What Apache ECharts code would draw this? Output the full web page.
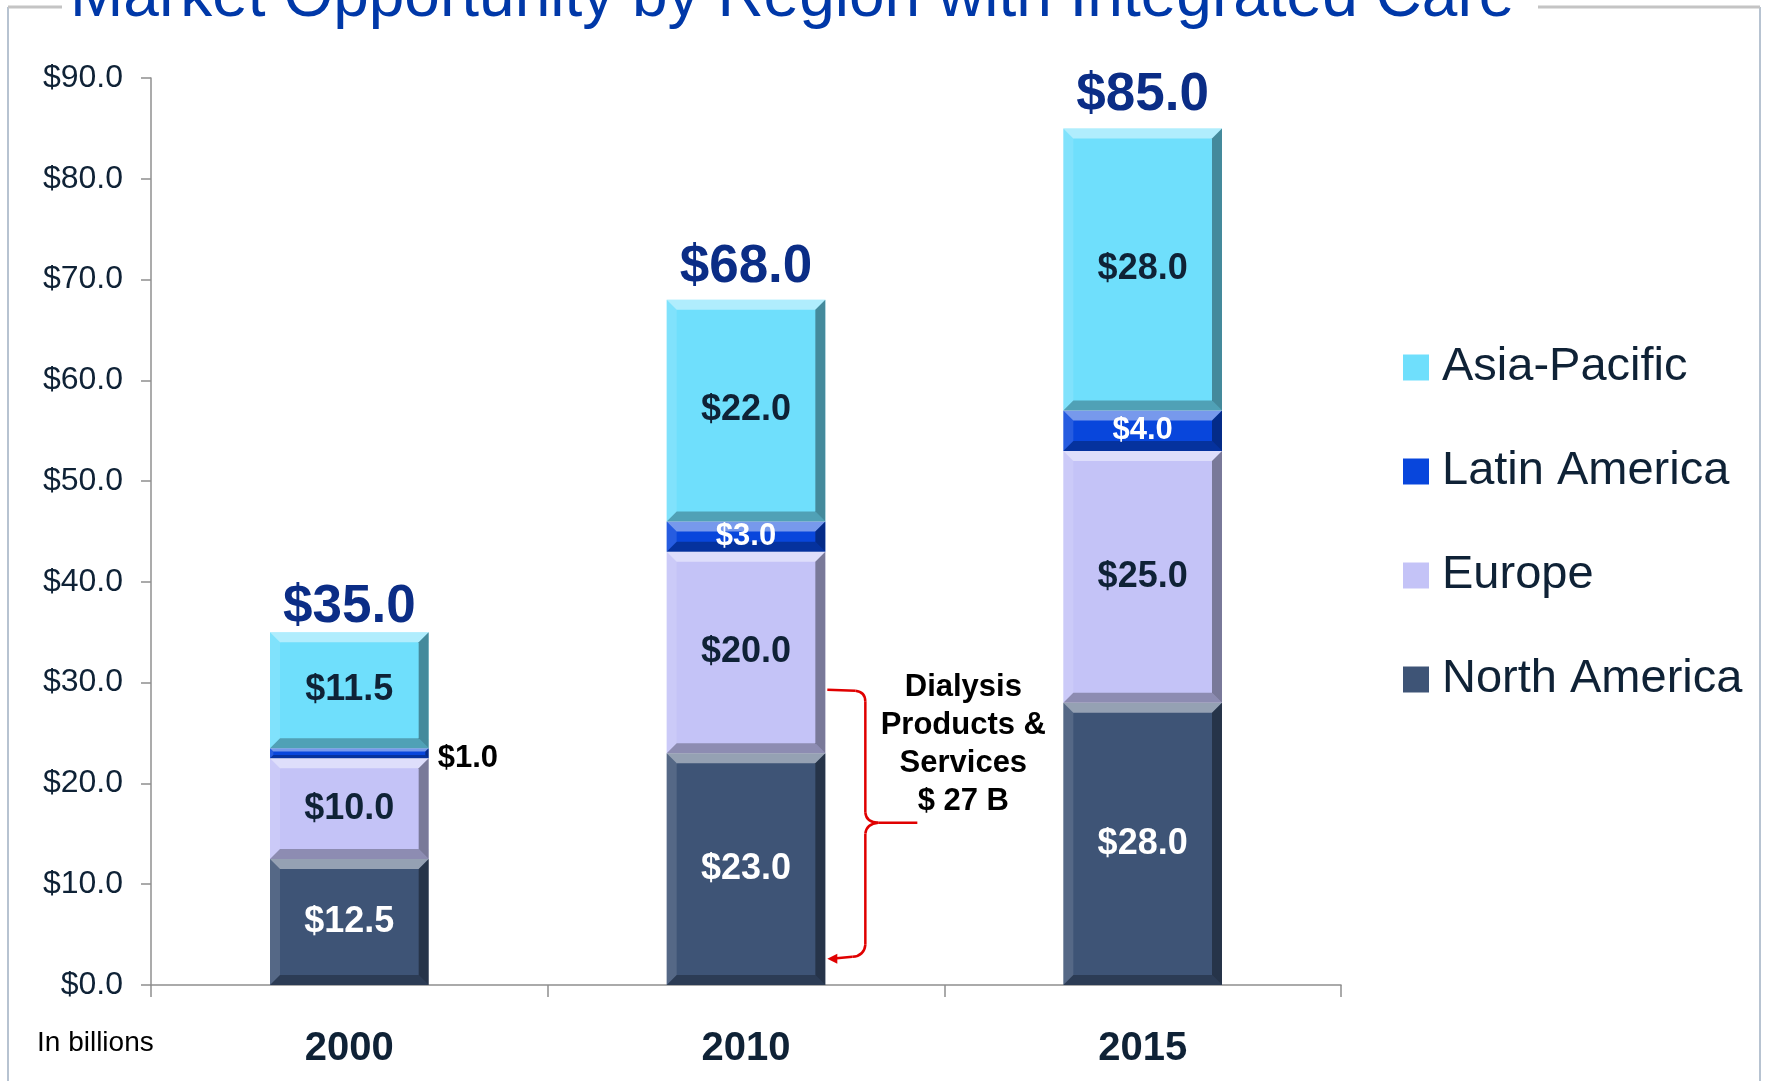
<!DOCTYPE html>
<html>
<head>
<meta charset="utf-8">
<script src="https://cdn.jsdelivr.net/npm/echarts@6/dist/echarts.min.js"></script>
<style>
  html, body { margin: 0; padding: 0; background: #fff; }
  #main { width: 1767px; height: 1081px; }
</style>
</head>
<body>
<div id="main"></div>
<script>
// data (billions USD)
var years = ['2000', '2010', '2015'];
var northAmerica = [12.5, 23.0, 28.0];
var europe = [10.0, 20.0, 25.0];
var latinAmerica = [1.0, 3.0, 4.0];
var asiaPacific = [11.5, 22.0, 28.0];
var totals = [35.0, 68.0, 85.0];
var legendOrder = ['Asia-Pacific', 'Latin America', 'Europe', 'North America'];

var FONT = '"Liberation Sans", Arial, sans-serif';
var DARK = '#0f2236';
var BAR_W = 0.4;

// stacking order bottom -> top
var regions = [
  { name: 'North America', data: northAmerica, color: '#3e5476', text: '#ffffff', size: 36 },
  { name: 'Europe', data: europe, color: '#c4c3f7', text: DARK, size: 36 },
  { name: 'Latin America', data: latinAmerica, color: '#0846dc', text: '#ffffff', size: 31 },
  { name: 'Asia-Pacific', data: asiaPacific, color: '#6fdffc', text: DARK, size: 36 }
];

// segments for the bevel / label overlay: [category, low, high, region]
var segments = [];
years.forEach(function (y, i) {
  var base = 0;
  regions.forEach(function (r, k) {
    segments.push([i, base, base + r.data[i], k]);
    base += r.data[i];
  });
});

function renderBevel(params, api) {
  var cat = api.value(0), lo = api.value(1), hi = api.value(2), k = api.value(3);
  var pt = api.coord([cat, hi]);
  var pb = api.coord([cat, lo]);
  var w = api.size([1, 0])[0] * BAR_W;
  var x0 = pt[0] - w / 2, x1 = pt[0] + w / 2, y0 = pt[1], y1 = pb[1];
  var b = Math.min(10, (y1 - y0) / 3);
  var r = regions[k];
  var kids = [
    { type: 'polygon', shape: { points: [[x0, y0], [x1, y0], [x1 - b, y0 + b], [x0 + b, y0 + b]] }, style: { fill: 'rgba(255,255,255,0.45)' } },
    { type: 'polygon', shape: { points: [[x0, y0], [x0 + b, y0 + b], [x0 + b, y1 - b], [x0, y1]] }, style: { fill: 'rgba(255,255,255,0.12)' } },
    { type: 'polygon', shape: { points: [[x1, y0], [x1, y1], [x1 - b, y1 - b], [x1 - b, y0 + b]] }, style: { fill: 'rgba(0,0,0,0.38)' } },
    { type: 'polygon', shape: { points: [[x0, y1], [x0 + b, y1 - b], [x1 - b, y1 - b], [x1, y1]] }, style: { fill: 'rgba(0,0,0,0.28)' } }
  ];
  var label = '$' + (hi - lo).toFixed(1);
  if (y1 - y0 < 20) {
    kids.push({ type: 'text', style: { text: label, x: x1 + 9, y: (y0 + y1) / 2 + 5, align: 'left', verticalAlign: 'middle', fill: '#000', font: 'bold 31px ' + FONT } });
  } else {
    kids.push({ type: 'text', style: { text: label, x: pt[0], y: (y0 + y1) / 2, align: 'center', verticalAlign: 'middle', fill: r.text, font: 'bold ' + r.size + 'px ' + FONT } });
  }
  return { type: 'group', children: kids };
}

var series = regions.map(function (r) {
  return {
    name: r.name,
    type: 'bar',
    stack: 'all',
    barWidth: '40%',
    data: r.data,
    itemStyle: { color: r.color },
    silent: true
  };
});
series.push({
  name: 'bevel',
  type: 'custom',
  renderItem: renderBevel,
  data: segments,
  encode: { x: 0, y: [1, 2] },
  z: 3,
  silent: true
});
series.push({
  name: 'Total',
  type: 'bar',
  barWidth: '40%',
  barGap: '-100%',
  data: totals.map(function (v, i) {
    return i === 0 ? { value: v, label: { distance: -2 } } : v;
  }),
  itemStyle: { color: 'rgba(0,0,0,0)' },
  label: {
    show: true,
    position: 'top',
    distance: 6,
    formatter: function (p) { return '$' + p.value.toFixed(1); },
    fontSize: 53,
    fontWeight: 'bold',
    fontFamily: FONT,
    color: '#0b2d86'
  },
  z: 1,
  silent: true
});

var chart = echarts.init(document.getElementById('main'));
chart.setOption({
  animation: false,
  grid: { left: 151, right: 426, top: 78, bottom: 96 },
  legend: {
    orient: 'vertical',
    left: 1403,
    top: 344,
    padding: 0,
    itemWidth: 26,
    itemHeight: 26,
    itemGap: 57,
    icon: 'rect',
    selectedMode: false,
    data: legendOrder,
    textStyle: { fontSize: 47, lineHeight: 47, color: DARK, fontFamily: FONT, padding: [0, 0, 0, 8] }
  },
  xAxis: {
    type: 'category',
    data: years,
    axisLine: { lineStyle: { color: '#8f8f8f', width: 1.5 } },
    axisTick: { show: true, length: 12, lineStyle: { color: '#8f8f8f', width: 1.5 } },
    axisLabel: { fontSize: 40, fontWeight: 'bold', color: DARK, fontFamily: FONT, margin: 44 }
  },
  yAxis: {
    type: 'value',
    min: 0,
    max: 90,
    interval: 10,
    splitLine: { show: false },
    axisLine: { show: true, lineStyle: { color: '#8f8f8f', width: 1.5 } },
    axisTick: { show: true, length: 10, lineStyle: { color: '#8f8f8f', width: 1.5 } },
    axisLabel: {
      formatter: function (v) { return '$' + v.toFixed(1); },
      fontSize: 32, color: DARK, fontFamily: FONT, margin: 28
    }
  },
  series: series
});

// annotation brace next to the 2010 bar
var braceTop = chart.convertToPixel({ gridIndex: 0 }, [1, 29.3]);
var braceMid = chart.convertToPixel({ gridIndex: 0 }, [1, 16.1]);
var braceBot = chart.convertToPixel({ gridIndex: 0 }, [1, 2.8]);
var band = chart.convertToPixel({ gridIndex: 0 }, [2, 0])[0] - braceTop[0];
var bx = braceTop[0] + band * BAR_W / 2 + 2;
var vx = bx + 38;
var t = braceTop[1], m = braceMid[1], bt = braceBot[1];
var red = { stroke: '#e00000', lineWidth: 2.5, fill: null };

function seg(x1, y1, x2, y2) {
  return { type: 'line', shape: { x1: x1, y1: y1, x2: x2, y2: y2 }, style: red };
}
function curve(x1, y1, cx, cy, x2, y2) {
  return { type: 'bezierCurve', shape: { x1: x1, y1: y1, cpx1: cx, cpy1: cy, x2: x2, y2: y2 }, style: red };
}

var brace = [
  seg(bx, t, vx - 10, t + 1),
  curve(vx - 10, t + 1, vx, t + 2, vx, t + 12),
  seg(vx, t + 12, vx, m - 10),
  curve(vx, m - 10, vx + 1, m, vx + 13, m),
  seg(vx + 13, m, vx + 52, m),
  curve(vx + 13, m, vx + 1, m + 1, vx, m + 11),
  seg(vx, m + 11, vx, bt - 12),
  curve(vx, bt - 12, vx - 1, bt - 1, vx - 13, bt),
  seg(vx - 13, bt, bx + 4, bt + 2),
  { type: 'polygon', shape: { points: [[bx, bt + 2], [bx + 10, bt - 3], [bx + 10, bt + 7]] }, style: { fill: '#e00000' } }
];

var graphics = [
  { type: 'line', shape: { x1: 8, y1: 7, x2: 8, y2: 1081 }, style: { stroke: '#b7c3d1', lineWidth: 2 } },
  { type: 'line', shape: { x1: 1760, y1: 7, x2: 1760, y2: 1081 }, style: { stroke: '#b7c3d1', lineWidth: 2 } },
  { type: 'line', shape: { x1: 8, y1: 7, x2: 62, y2: 7 }, style: { stroke: '#c4c4c4', lineWidth: 3 } },
  { type: 'line', shape: { x1: 1538, y1: 7, x2: 1760, y2: 7 }, style: { stroke: '#c4c4c4', lineWidth: 3 } },
  {
    type: 'text', x: 70, y: -2,
    style: { text: 'Market Opportunity by Region with Integrated Care', fill: '#0038a8', font: '64px ' + FONT, verticalAlign: 'middle' }
  },
  {
    type: 'text', x: 37, y: 1043,
    style: { text: 'In billions', fill: '#000', font: '28px ' + FONT, verticalAlign: 'middle' }
  },
  {
    type: 'text',
    x: vx + 98, y: (t + bt) / 2 - 155,
    style: {
      text: 'Dialysis\nProducts &\nServices\n$ 27 B',
      align: 'center', verticalAlign: 'top',
      fill: '#000', font: 'bold 31px ' + FONT, lineHeight: 38
    }
  }
].concat(brace);

chart.setOption({ graphic: graphics });
</script>
</body>
</html>
